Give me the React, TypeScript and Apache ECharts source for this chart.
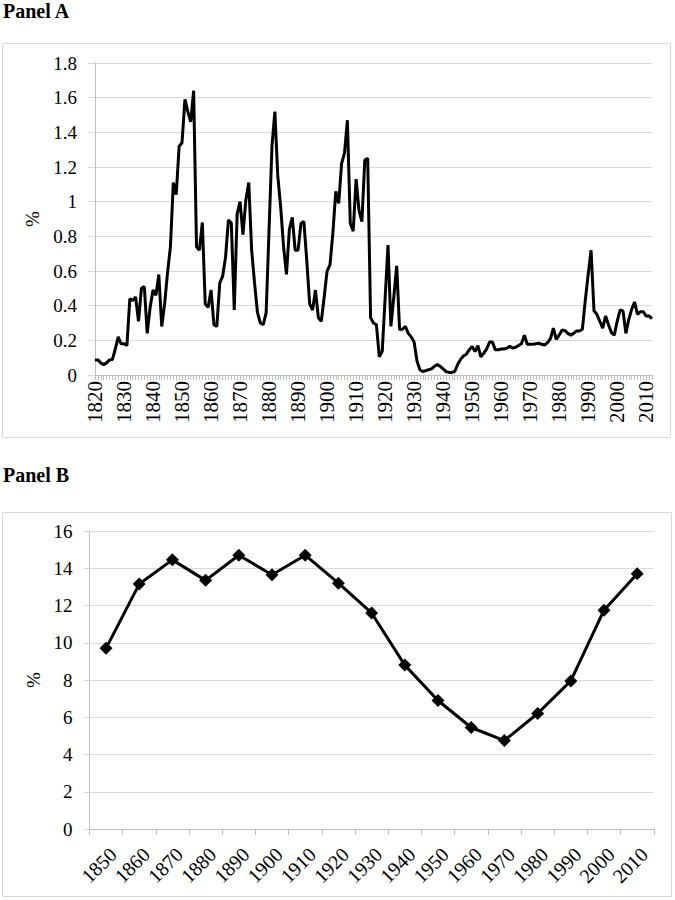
import React, { useEffect, useRef } from "react";
import * as echarts from "echarts";

// Panel A: years 1820..2012 (category labels)
const yearsA: string[] = [];
for (let y = 1820; y <= 2012; y++) yearsA.push(String(y));

// Panel A values (%), one per year from 1820 to 2012
const valuesA1820s = [0.087, 0.087, 0.07, 0.06, 0.07, 0.087, 0.09, 0.15, 0.22, 0.18];
const valuesA1830s = [0.18, 0.17, 0.44, 0.43, 0.45, 0.31, 0.5, 0.51, 0.24, 0.39];
const valuesA1840s = [0.49, 0.46, 0.58, 0.28, 0.41, 0.59, 0.74, 1.11, 1.04, 1.32];
const valuesA1850s = [1.34, 1.59, 1.52, 1.46, 1.64, 0.74, 0.72, 0.88, 0.41, 0.39];
const valuesA1860s = [0.49, 0.29, 0.28, 0.53, 0.57, 0.68, 0.895, 0.875, 0.375, 0.93];
const valuesA1870s = [1.0, 0.81, 1.01, 1.11, 0.72, 0.53, 0.36, 0.3, 0.29, 0.36];
const valuesA1880s = [0.84, 1.32, 1.52, 1.15, 0.97, 0.74, 0.58, 0.84, 0.91, 0.72];
const valuesA1890s = [0.72, 0.875, 0.885, 0.66, 0.41, 0.375, 0.49, 0.33, 0.31, 0.45];
const valuesA1900s = [0.6, 0.635, 0.82, 1.06, 0.99, 1.22, 1.28, 1.47, 0.875, 0.83];
const valuesA1910s = [1.13, 0.95, 0.885, 1.24, 1.25, 0.33, 0.3, 0.29, 0.105, 0.135];
const valuesA1920s = [0.44, 0.75, 0.28, 0.45, 0.63, 0.26, 0.265, 0.28, 0.24, 0.22];
const valuesA1930s = [0.19, 0.08, 0.03, 0.02, 0.025, 0.03, 0.035, 0.05, 0.06, 0.05];
const valuesA1940s = [0.035, 0.02, 0.015, 0.015, 0.02, 0.06, 0.09, 0.11, 0.12, 0.145];
const valuesA1950s = [0.165, 0.135, 0.17, 0.105, 0.125, 0.15, 0.19, 0.19, 0.145, 0.145];
const valuesA1960s = [0.15, 0.15, 0.155, 0.165, 0.155, 0.16, 0.17, 0.18, 0.23, 0.177];
const valuesA1970s = [0.177, 0.177, 0.18, 0.183, 0.177, 0.173, 0.187, 0.21, 0.27, 0.206];
const valuesA1980s = [0.23, 0.26, 0.256, 0.24, 0.23, 0.24, 0.254, 0.254, 0.264, 0.43];
const valuesA1990s = [0.58, 0.72, 0.37, 0.35, 0.31, 0.27, 0.34, 0.29, 0.245, 0.23];
const valuesA2000s = [0.31, 0.375, 0.37, 0.24, 0.32, 0.38, 0.42, 0.35, 0.365, 0.365];
const valuesA2010s = [0.34, 0.34, 0.325];

const valuesA = [
  ...valuesA1820s, ...valuesA1830s, ...valuesA1840s, ...valuesA1850s, ...valuesA1860s,
  ...valuesA1870s, ...valuesA1880s, ...valuesA1890s, ...valuesA1900s, ...valuesA1910s,
  ...valuesA1920s, ...valuesA1930s, ...valuesA1940s, ...valuesA1950s, ...valuesA1960s,
  ...valuesA1970s, ...valuesA1980s, ...valuesA1990s, ...valuesA2000s, ...valuesA2010s,
];

// Panel B
const yearsB = ["1850", "1860", "1870", "1880", "1890", "1900", "1910", "1920", "1930",
  "1940", "1950", "1960", "1970", "1980", "1990", "2000", "2010"];
const valuesB = [9.7, 13.15, 14.45, 13.35, 14.7, 13.65, 14.7, 13.2, 11.6, 8.8, 6.9, 5.45,
  4.75, 6.2, 7.95, 11.75, 13.7];

const FONT = '"Liberation Serif", "Times New Roman", serif';
const GRID_COLOR = "#d9d9d9";
const AXIS_COLOR = "#bfbfbf";

export default function App() {
  const ref = useRef<HTMLDivElement>(null);
  useEffect(() => {
    if (!ref.current) return;
    const chart = echarts.init(ref.current, undefined, { renderer: "svg" });
    const yLabelStyle = { fontFamily: FONT, fontSize: 19, color: "#000" };
    chart.setOption({
      animation: false,
      backgroundColor: "#fff",
      grid: [
        { left: 95, top: 63, width: 557, height: 312 },
        { left: 89.4, top: 531, width: 564.4, height: 298 },
      ],
      xAxis: [
        {
          type: "category",
          gridIndex: 0,
          data: yearsA,
          boundaryGap: false,
          axisLine: { show: true, lineStyle: { color: AXIS_COLOR, width: 1 } },
          axisTick: { show: true, interval: 0, length: 5, lineStyle: { color: AXIS_COLOR } },
          axisLabel: { fontFamily: FONT, fontSize: 21, color: "#000", interval: 9, rotate: 90, margin: 6 },
          splitLine: { show: false },
        },
        {
          type: "category",
          gridIndex: 1,
          data: yearsB,
          boundaryGap: true,
          axisLine: { show: true, lineStyle: { color: AXIS_COLOR, width: 1 } },
          axisTick: { show: true, interval: 0, length: 6, lineStyle: { color: AXIS_COLOR } },
          axisLabel: {
            fontFamily: FONT,
            fontSize: 20,
            color: "#000",
            interval: 0,
            rotate: 45,
            margin: 15,
            verticalAlign: "top",
          },
          splitLine: { show: false },
        },
      ],
      yAxis: [
        {
          type: "value",
          gridIndex: 0,
          min: 0,
          max: 1.8,
          interval: 0.2,
          name: "%",
          nameLocation: "middle",
          nameGap: 51,
          nameRotate: 90,
          nameTextStyle: { fontFamily: FONT, fontSize: 19, color: "#000" },
          axisLine: { show: true, lineStyle: { color: AXIS_COLOR, width: 1 } },
          axisTick: { show: true, length: 7, lineStyle: { color: GRID_COLOR } },
          splitLine: { show: true, lineStyle: { color: GRID_COLOR, width: 1 } },
          axisLabel: {
            ...yLabelStyle,
            margin: 18,
            formatter: (v: number) => String(Math.round(v * 10) / 10),
          },
        },
        {
          type: "value",
          gridIndex: 1,
          min: 0,
          max: 16,
          interval: 2,
          name: "%",
          nameLocation: "middle",
          nameGap: 45,
          nameRotate: 90,
          nameTextStyle: { fontFamily: FONT, fontSize: 19, color: "#000" },
          axisLine: { show: true, lineStyle: { color: AXIS_COLOR, width: 1 } },
          axisTick: { show: true, length: 6, lineStyle: { color: GRID_COLOR } },
          splitLine: { show: true, lineStyle: { color: GRID_COLOR, width: 1 } },
          axisLabel: { ...yLabelStyle, margin: 17 },
        },
      ],
      series: [
        {
          type: "line",
          xAxisIndex: 0,
          yAxisIndex: 0,
          data: valuesA,
          showSymbol: false,
          symbol: "none",
          lineStyle: { color: "#000", width: 3 },
          itemStyle: { color: "#000" },
        },
        {
          type: "line",
          xAxisIndex: 1,
          yAxisIndex: 1,
          data: valuesB,
          symbol: "diamond",
          symbolSize: 13,
          lineStyle: { color: "#000", width: 3 },
          itemStyle: { color: "#000" },
        },
      ],
      graphic: [
        {
          type: "rect",
          silent: true,
          z: -1,
          shape: { x: 2.5, y: 43.5, width: 668, height: 394 },
          style: { fill: "none", stroke: GRID_COLOR, lineWidth: 1 },
        },
        {
          type: "rect",
          silent: true,
          z: -1,
          shape: { x: 2.5, y: 512.5, width: 669, height: 384 },
          style: { fill: "none", stroke: GRID_COLOR, lineWidth: 1 },
        },
        {
          type: "text",
          left: 3,
          top: 1,
          style: { text: "Panel A", font: `bold 20px ${FONT}`, fill: "#000" },
        },
        {
          type: "text",
          left: 3,
          top: 465,
          style: { text: "Panel B", font: `bold 20px ${FONT}`, fill: "#000" },
        },
      ],
    });
    return () => chart.dispose();
  }, []);
  return (
    <div
      ref={ref}
      style={{ position: "absolute", left: 0, top: 0, width: 675, height: 900 }}
    />
  );
}
